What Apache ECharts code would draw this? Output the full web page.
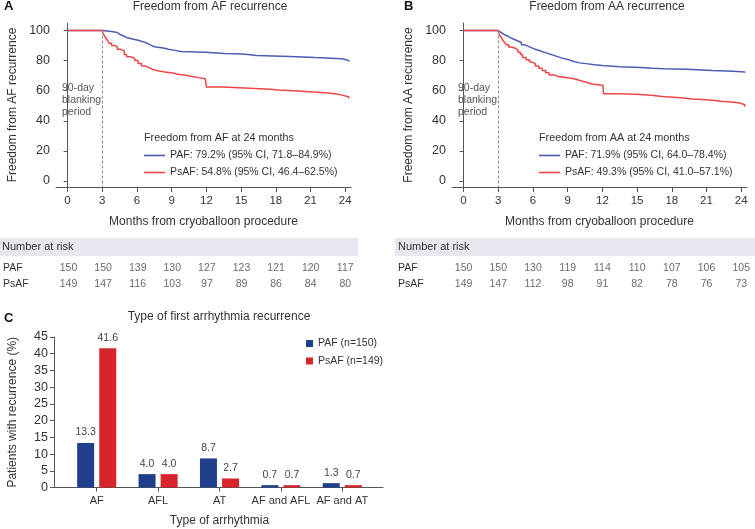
<!DOCTYPE html>
<html><head><meta charset="utf-8">
<script src="https://cdn.jsdelivr.net/npm/echarts@6/dist/echarts.min.js"></script>
<style>html,body{margin:0;padding:0;background:#fff}#c{width:755px;height:529px}</style>
</head><body><div id="c"></div>
<script>
const FONT = "'Liberation Sans', Arial, sans-serif";
const monthTicks = [0, 3, 6, 9, 12, 15, 18, 21, 24];
const survTicks = [0, 20, 40, 60, 80, 100];

// Panel A: freedom from AF recurrence (Kaplan-Meier steps: [month, %])
const afPAF = [[0,100],[3,100],[3.1,99.3],[3.8,98.7],[4.3,97.5],[4.5,96.5],[4.8,95.3],[5.1,94.3],[5.6,93.5],[6.1,92.6],[6.5,91.5],[6.9,90.3],[7.2,89.2],[7.5,88.2],[8.4,87.6],[8.7,86.8],[9.3,86.1],[9.8,85.6],[11.9,84.8],[13.6,84.5],[14.6,84],[15.6,83.4],[16.3,82.8],[19.2,82],[21.4,81.3],[23.7,80.7],[24.0,80.1],[24.3,79.2]];
const afPsAF = [[0,100],[3,100],[3.05,98.5],[3.15,97],[3.3,95],[3.45,93.5],[3.6,91.5],[3.8,90],[4.1,89],[4.3,87.5],[4.6,86.5],[4.9,84],[5.1,82.5],[5.5,81.5],[5.8,80],[6.1,78],[6.4,76.5],[6.7,75.5],[7.0,74.3],[7.3,73.3],[7.8,72.5],[8.4,71.8],[9.1,71],[9.5,70.2],[10.2,69.5],[10.8,68.7],[11.3,68],[11.9,67],[12.0,62.4],[13.5,62],[14.8,61.5],[16.2,61],[17.5,60.5],[18.3,60],[19.5,59.5],[20.6,59],[21.6,58.5],[22.5,58],[23.1,57.4],[23.6,56.5],[24.0,56],[24.3,54.8]];

// Panel B: freedom from AA recurrence
const aaPAF = [[0,100],[3,100],[3.05,99],[3.2,98],[3.4,97],[3.6,96],[3.9,95],[4.1,94],[4.4,93],[4.7,92],[5.0,90.5],[5.3,89.5],[5.6,88.5],[5.9,87.5],[6.2,86.5],[6.6,85.5],[7.0,84.5],[7.4,83.5],[7.8,82.5],[8.2,81.5],[8.6,80.8],[9.0,79.8],[9.4,78.5],[10.0,78],[10.6,77.3],[11.3,76.7],[12.0,76],[13.5,75.5],[15.3,75],[16.3,74.6],[17.3,74.2],[19.3,73.5],[21.5,73],[23.3,72.5],[24.3,71.9]];
const aaPsAF = [[0,100],[3,100],[3.05,98],[3.15,96.5],[3.3,95],[3.4,93.5],[3.55,92],[3.7,90.5],[3.9,89],[4.1,88.2],[4.5,87],[4.7,85.5],[4.9,84],[5.1,82],[5.4,80.5],[5.7,79],[5.9,78],[6.2,76.5],[6.5,75],[6.8,73.5],[7.1,72],[7.4,70.5],[7.8,69.5],[8.2,68.3],[9.3,67.5],[9.8,66.5],[10.2,65.5],[10.7,64.5],[11.1,64],[11.6,63.5],[12.05,63.2],[12.1,58],[13.5,57.5],[15.3,57],[16.2,56.2],[17.2,55.5],[18.5,54.5],[19.8,53.8],[21.3,53],[22.3,52.5],[23.1,51.8],[23.9,50.7],[24.3,49.3]];

// Number at risk
const riskMonths = [0, 3, 6, 9, 12, 15, 18, 21, 24];
const riskA_PAF = [150,150,139,130,127,123,121,120,117];
const riskA_PsAF = [149,147,116,103,97,89,86,84,80];
const riskB_PAF = [150,150,130,119,114,110,107,106,105];
const riskB_PsAF = [149,147,112,98,91,82,78,76,73];
const riskRows = ['PAF', 'PsAF'];

// Panel C
const arrhythmiaTypes = ['AF', 'AFL', 'AT', 'AF and AFL', 'AF and AT'];
const barPAF = [13.3, 4.0, 8.7, 0.7, 1.3];
const barPsAF = [41.6, 4.0, 2.7, 0.7, 0.7];

const legA = ['PAF: 79.2% (95% CI, 71.8–84.9%)', 'PsAF: 54.8% (95% CI, 46.4–62.5%)'];
const legB = ['PAF: 71.9% (95% CI, 64.0–78.4%)', 'PsAF: 49.3% (95% CI, 41.0–57.1%)'];
const legC = ['PAF (n=150)', 'PsAF (n=149)'];

const KM_BLUE = '#4a5db3', KM_RED = '#f04646';
const BAR_BLUE = '#1f3f8c', BAR_RED = '#d8242b';
const AXIS = '#555';

function kmX(grid) {
  return {
    type: 'value', gridIndex: grid, min: -1, max: 24.5,
    axisLine: {show: true, onZero: false, lineStyle: {color: AXIS}},
    axisTick: {show: true, length: 5, customValues: monthTicks, lineStyle: {color: AXIS}},
    axisLabel: {customValues: monthTicks, fontSize: 11.5, color: '#333', margin: 8, fontFamily: FONT},
    splitLine: {show: false},
    name: 'Months from cryoballoon procedure', nameLocation: 'middle', nameGap: 29,
    nameTextStyle: {fontSize: 12, color: '#333', fontFamily: FONT}
  };
}
function kmY(grid, name) {
  return {
    type: 'value', gridIndex: grid, min: -4, max: 105,
    axisLine: {show: true, lineStyle: {color: AXIS}},
    axisTick: {show: true, length: 4, customValues: survTicks, lineStyle: {color: AXIS}},
    axisLabel: {customValues: survTicks, fontSize: 12.5, color: '#333', margin: 6, fontFamily: FONT},
    splitLine: {show: false},
    name: name, nameLocation: 'middle', nameGap: 37,
    nameTextStyle: {fontSize: 12, color: '#333', fontFamily: FONT}
  };
}
function riskX(grid) {
  return {type: 'value', gridIndex: grid, min: -1, max: 24.5, show: false};
}
function riskY(grid) {
  return {
    type: 'category', gridIndex: grid, data: riskRows, inverse: true,
    axisLine: {show: false}, axisTick: {show: false},
    axisLabel: {align: 'left', margin: 54, fontSize: 10.5, color: '#333', fontFamily: FONT}
  };
}
function kmLine(name, data, color, axisIdx, mark) {
  const s = {
    type: 'line', name: name, data: data, step: 'end', symbol: 'none', showSymbol: false,
    xAxisIndex: axisIdx, yAxisIndex: axisIdx, color: color,
    lineStyle: {color: color, width: 1.5}, silent: true, z: 3
  };
  if (mark) {
    s.markLine = {
      silent: true, symbol: 'none', label: {show: false},
      lineStyle: {color: '#8a8a8a', type: [3, 2], width: 1},
      data: [[{coord: [3, 100]}, {coord: [3, -4]}]]
    };
  }
  return s;
}
function riskSeries(axisIdx, arrP, arrS) {
  const data = [];
  riskMonths.forEach((m, i) => {
    data.push([m, 0, arrP[i]]);
    data.push([m, 1, arrS[i]]);
  });
  return {
    type: 'scatter', xAxisIndex: axisIdx, yAxisIndex: axisIdx, data: data,
    symbolSize: 1, itemStyle: {color: 'rgba(0,0,0,0)'}, silent: true,
    label: {show: true, position: 'inside', formatter: p => String(p.value[2]), fontSize: 10.5, color: '#444', fontFamily: FONT}
  };
}
function txt(x, y, text, size, opts) {
  return {
    type: 'text', x: x, y: y, silent: true,
    style: Object.assign({text: text, fontSize: size, fontFamily: FONT, fill: '#333', verticalAlign: 'middle', align: 'left'}, (opts || {}))
  };
}
function kmLegend(names, left) {
  return {
    data: names, orient: 'vertical', left: left, top: 149, padding: 0,
    icon: 'rect', itemWidth: 21, itemHeight: 1.6, itemGap: 4,
    textStyle: {fontSize: 10.5, color: '#333', lineHeight: 13, fontFamily: FONT}, selectedMode: false
  };
}

const option = {
  animation: false,
  backgroundColor: '#fff',
  grid: [
    {left: 56, top: 23, width: 295, height: 164},
    {left: 452, top: 23, width: 295, height: 164},
    {left: 56, top: 260, width: 295, height: 32},
    {left: 452, top: 260, width: 295, height: 32},
    {left: 66, top: 337, width: 307, height: 150.5},
    {left: 54, top: 337, width: 329, height: 150.5}
  ],
  xAxis: [
    kmX(0), kmX(1), riskX(2), riskX(3),
    {
      type: 'category', gridIndex: 4, data: arrhythmiaTypes,
      axisLine: {show: false},
      axisTick: {show: true, alignWithLabel: true, length: 4, lineStyle: {color: AXIS}},
      axisLabel: {interval: 0, fontSize: 11, color: '#333', margin: 8, fontFamily: FONT},
      name: 'Type of arrhythmia', nameLocation: 'middle', nameGap: 27,
      nameTextStyle: {fontSize: 12, color: '#333', fontFamily: FONT}
    },
    {
      type: 'value', gridIndex: 5, min: 0, max: 1,
      axisLine: {show: true, lineStyle: {color: AXIS}}, axisTick: {show: false},
      axisLabel: {show: false}, splitLine: {show: false}
    }
  ],
  yAxis: [
    kmY(0, 'Freedom from AF recurrence'), kmY(1, 'Freedom from AA recurrence'),
    riskY(2), riskY(3),
    {
      type: 'value', gridIndex: 4, min: 0, max: 45, interval: 5, offset: 12,
      axisLine: {show: true, lineStyle: {color: AXIS}},
      axisTick: {show: true, length: 4, lineStyle: {color: AXIS}},
      axisLabel: {fontSize: 12.5, color: '#333', margin: 6, fontFamily: FONT},
      splitLine: {show: false},
      name: 'Patients with recurrence (%)', nameLocation: 'middle', nameGap: 35,
      nameTextStyle: {fontSize: 12, color: '#333', fontFamily: FONT}
    },
    {type: 'value', gridIndex: 5, show: false, min: 0, max: 1}
  ],
  legend: [
    kmLegend(legA, 144),
    kmLegend(legB, 539),
    {
      data: legC, orient: 'vertical', left: 306, top: 337, padding: 0,
      itemWidth: 7, itemHeight: 7, itemGap: 4.5, icon: 'rect',
      textStyle: {fontSize: 10.5, color: '#333', lineHeight: 13, fontFamily: FONT}, selectedMode: false
    }
  ],
  graphic: [
    {type: 'rect', shape: {x: 0, y: 238, width: 358, height: 18}, style: {fill: '#e7e7ef'}, silent: true, z: -10},
    {type: 'rect', shape: {x: 395, y: 238, width: 360, height: 18}, style: {fill: '#e7e7ef'}, silent: true, z: -10},
    txt(2, 247, 'Number at risk', 11),
    txt(398, 247, 'Number at risk', 11),
    txt(4, 6, 'A', 13, {fontWeight: 'bold', fill: '#111'}),
    txt(404, 6, 'B', 13, {fontWeight: 'bold', fill: '#111'}),
    txt(4, 318, 'C', 13, {fontWeight: 'bold', fill: '#111'}),
    txt(210, 7, 'Freedom from AF recurrence', 12, {align: 'center'}),
    txt(607, 7, 'Freedom from AA recurrence', 12, {align: 'center'}),
    txt(219, 317, 'Type of first arrhythmia recurrence', 12, {align: 'center'}),
    txt(144, 138, 'Freedom from AF at 24 months', 10.8),
    txt(539, 138, 'Freedom from AA at 24 months', 10.8),
    txt(62, 88, '90-day', 10.5, {fill: '#555'}),
    txt(62, 100, 'blanking', 10.5, {fill: '#555'}),
    txt(62, 112, 'period', 10.5, {fill: '#555'}),
    txt(458, 88, '90-day', 10.5, {fill: '#555'}),
    txt(458, 100, 'blanking', 10.5, {fill: '#555'}),
    txt(458, 112, 'period', 10.5, {fill: '#555'})
  ],
  series: [
    kmLine(legA[0], afPAF, KM_BLUE, 0, true),
    kmLine(legA[1], afPsAF, KM_RED, 0, false),
    kmLine(legB[0], aaPAF, KM_BLUE, 1, true),
    kmLine(legB[1], aaPsAF, KM_RED, 1, false),
    riskSeries(2, riskA_PAF, riskA_PsAF),
    riskSeries(3, riskB_PAF, riskB_PsAF),
    {
      type: 'bar', name: legC[0], data: barPAF, xAxisIndex: 4, yAxisIndex: 4,
      barWidth: 17, barGap: '30%', color: BAR_BLUE, itemStyle: {color: BAR_BLUE}, silent: true,
      label: {show: true, position: 'top', distance: 5, formatter: p => p.value.toFixed(1), fontSize: 10.5, color: '#444', fontFamily: FONT}
    },
    {
      type: 'bar', name: legC[1], data: barPsAF, xAxisIndex: 4, yAxisIndex: 4,
      barWidth: 17, barGap: '30%', color: BAR_RED, itemStyle: {color: BAR_RED}, silent: true,
      label: {show: true, position: 'top', distance: 5, formatter: p => p.value.toFixed(1), fontSize: 10.5, color: '#444', fontFamily: FONT}
    }
  ]
};
const chart = echarts.init(document.getElementById('c'), null, {renderer: 'canvas'});
chart.setOption(option);
</script></body></html>
